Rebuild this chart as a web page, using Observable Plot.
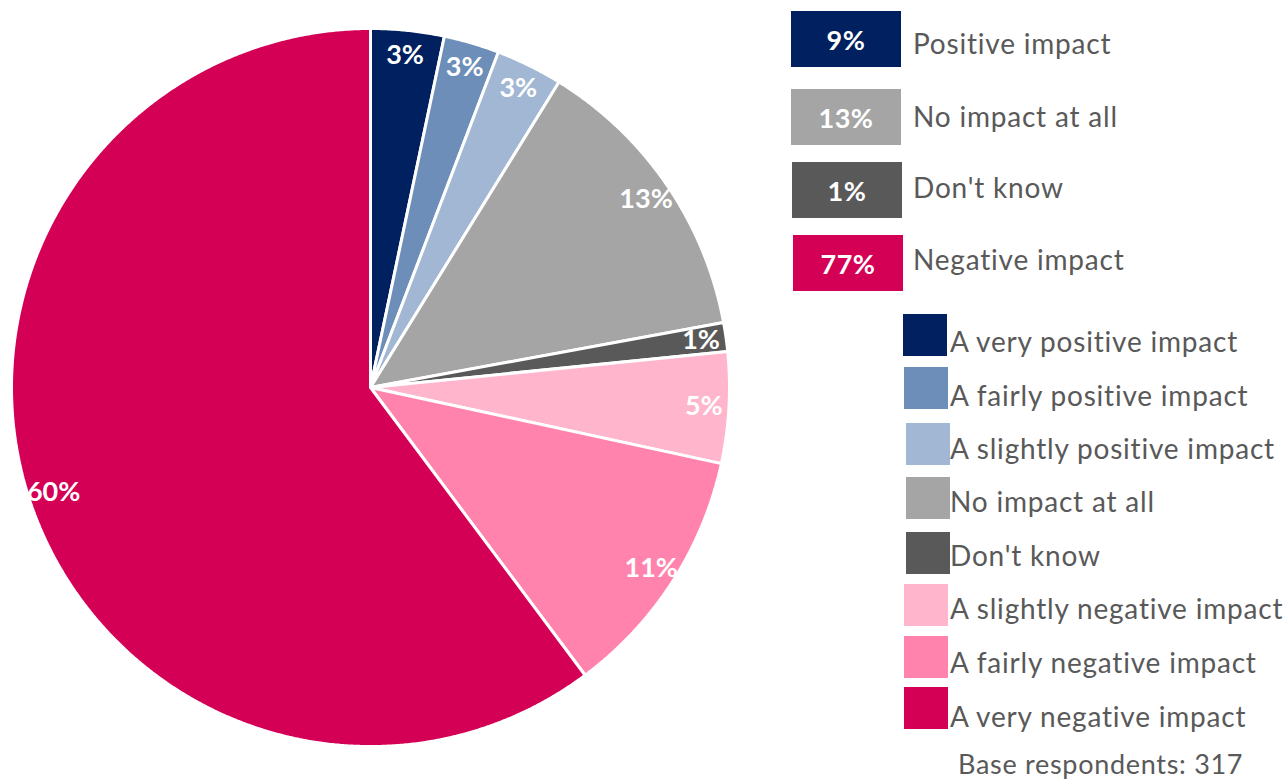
<!DOCTYPE html>
<html>
<head>
<meta charset="utf-8">
<script src="https://cdn.jsdelivr.net/npm/d3@7"></script>
<script src="https://cdn.jsdelivr.net/npm/@observablehq/plot@0.6"></script>
<style>
  html, body { margin: 0; padding: 0; background: #fff; overflow: hidden; }
  #root { position: relative; width: 1287px; height: 781px; font-family: Lato, "Open Sans", sans-serif; }
  #pie { position: absolute; left: 0; top: 0; }
  .sbox { position: absolute; width: 110px; height: 56px; color: #fff; font-weight: bold; font-size: 27px; letter-spacing: 0.5px;
          display: flex; align-items: center; justify-content: center; }
  .stext { position: absolute; color: #595959; font-size: 28px; letter-spacing: 0.8px; line-height: 30px; white-space: nowrap; }
  .lsw { position: absolute; width: 44px; height: 42px; }
  .ltext { position: absolute; color: #595959; font-size: 28px; letter-spacing: 0.8px; line-height: 30px; white-space: nowrap; }
  .base { position: absolute; color: #595959; font-size: 27px; letter-spacing: 0.7px; line-height: 26px; white-space: nowrap; }
</style>
</head>
<body>
<div id="root">
  <div id="pie"></div>
</div>
<script>
// ---- data ----
const categories = [
  "A very positive impact",
  "A fairly positive impact",
  "A slightly positive impact",
  "No impact at all",
  "Don't know",
  "A slightly negative impact",
  "A fairly negative impact",
  "A very negative impact"
];
const values = [3.3, 2.5, 3.0, 13.3, 1.3, 5.0, 11.4, 60.2];
const sliceLabels = ["3%", "3%", "3%", "13%", "1%", "5%", "11%", "60%"];
const colors = ["#002060", "#6C8EB8", "#A2B7D3", "#A5A5A5", "#595959", "#FFB6CD", "#FF83AD", "#D40055"];

const summaryGroups = ["Positive impact", "No impact at all", "Don't know", "Negative impact"];
const summaryLabels = ["9%", "13%", "1%", "77%"];
const summaryColors = ["#002060", "#A5A5A5", "#595959", "#D40055"];

const baseText = "Base respondents: 317";

// ---- pie geometry (unit circle, angles from d3.pie) ----
const arcs = d3.pie().sort(null).value(d => d)(values);
const polys = [];
arcs.forEach((a, i) => {
  polys.push({cat: categories[i], x: 0, y: 0});
  const n = Math.max(2, Math.ceil((a.endAngle - a.startAngle) / 0.005));
  for (let k = 0; k <= n; k++) {
    const t = a.startAngle + (a.endAngle - a.startAngle) * k / n;
    polys.push({cat: categories[i], x: Math.sin(t), y: Math.cos(t)});
  }
  polys.push({cat: categories[i], x: 0, y: 0});
});
const labelPts = arcs.map((a, i) => {
  const m = (a.startAngle + a.endAngle) / 2;
  const r = 0.93;
  return {label: sliceLabels[i], x: r * Math.sin(m), y: r * Math.cos(m)};
});

const cx = 370, cy = 387, R = 359;
const chart = Plot.plot({
  width: 740,
  height: 781,
  margin: 0,
  x: {domain: [-1, 1], range: [cx - R, cx + R], axis: null},
  y: {domain: [-1, 1], range: [cy + R, cy - R], axis: null},
  color: {domain: categories, range: colors},
  marks: [
    Plot.line(polys, {x: "x", y: "y", z: "cat", fill: "cat", stroke: "white", strokeWidth: 3, strokeLinejoin: "miter", curve: "linear"}),
    Plot.text(labelPts, {x: "x", y: "y", text: "label", fill: "white", fontWeight: "bold", fontSize: 27,
      fontFamily: "Lato, 'Open Sans', sans-serif"})
  ]
});
document.getElementById("pie").appendChild(chart);

// ---- legends (HTML) ----
const root = document.getElementById("root");
const sTops = [11, 89, 162, 235];
const sLefts = [791, 791, 792, 793];
const sCenters = [43, 116, 187, 259];
summaryGroups.forEach((g, i) => {
  const b = document.createElement("div");
  b.className = "sbox";
  b.style.left = sLefts[i] + "px";
  b.style.top = sTops[i] + "px";
  b.style.background = summaryColors[i];
  b.textContent = summaryLabels[i];
  root.appendChild(b);
  const t = document.createElement("div");
  t.className = "stext";
  t.style.left = "913px";
  t.style.top = (sCenters[i] - 15) + "px";
  t.textContent = g;
  root.appendChild(t);
});

const lTops = [314, 367, 423, 477, 532, 584, 636, 687];
const lLefts = [903, 904, 906, 906, 906, 904, 904, 904];
const lCenters = [341, 395, 448, 501, 555, 608, 662, 716];
categories.forEach((c, i) => {
  const s = document.createElement("div");
  s.className = "lsw";
  s.style.left = lLefts[i] + "px";
  s.style.top = lTops[i] + "px";
  s.style.background = colors[i];
  root.appendChild(s);
  const t = document.createElement("div");
  t.className = "ltext";
  t.style.left = "950px";
  t.style.top = (lCenters[i] - 15) + "px";
  t.textContent = c;
  root.appendChild(t);
});
const b = document.createElement("div");
b.className = "base";
b.style.left = "958px";
b.style.top = "751px";
b.textContent = baseText;
root.appendChild(b);
</script>
</body>
</html>
